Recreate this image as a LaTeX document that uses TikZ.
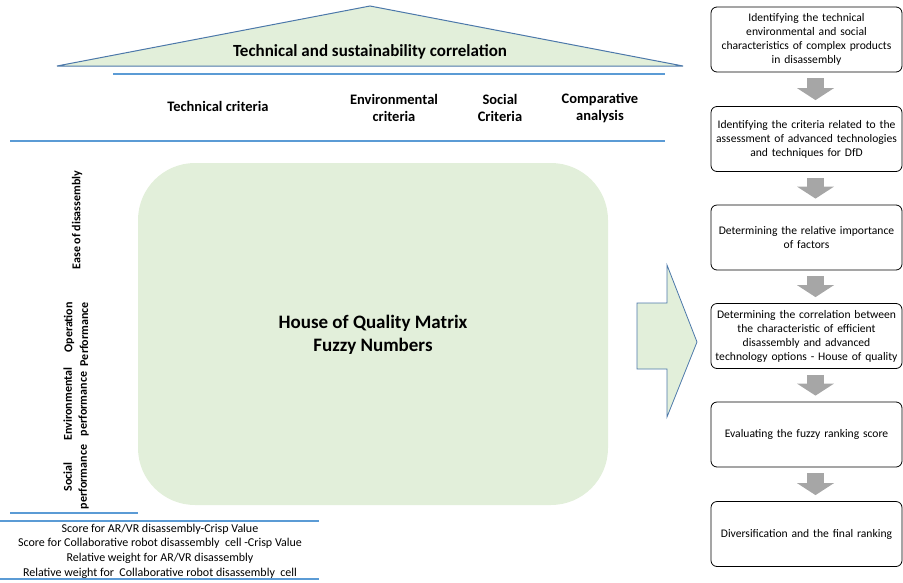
\documentclass[tikz,border=0pt]{standalone}
\usepackage{fontspec}
\setmainfont{Carlito}
\usepackage{tikz}
\usetikzlibrary{arrows.meta,positioning,calc}
\definecolor{hoqfill}{RGB}{226,239,218}
\definecolor{ruleblue}{RGB}{91,155,213}
\definecolor{edgeblue}{RGB}{76,120,170}
\definecolor{flowgray}{RGB}{166,166,166}
\tikzset{
  stepbox/.style ={draw, rounded corners=6pt, line width=0.8pt, align=center, text width=190pt,
                   minimum width=191pt, minimum height=65pt, inner sep=0.5pt, font=\fontsize{11.6}{14}\selectfont},
  downflow/.style={-{Triangle[width=37pt, length=12pt, line width=0pt]}, draw=flowgray, line width=17pt,
                   shorten <=6pt, shorten >=6pt},
  hdr/.style     ={align=center, font=\bfseries\fontsize{14.5}{17}\selectfont},
  sidelbl/.style ={rotate=90, align=center, inner sep=0pt, font=\bfseries\fontsize{12}{15}\selectfont},
  hrule/.style   ={draw=ruleblue, line width=1.2pt}
}
\begin{document}
\begin{tikzpicture}[x=1pt, y=-1pt]
  \useasboundingbox (0,0) rectangle (903,582);
  % roof
  \draw[edgeblue, fill=hoqfill, line width=1pt] (57,66) -- (370,6) -- (683,66) -- cycle;
  \node[font=\bfseries\fontsize{17}{20}\selectfont] (roof) at (370,52) {Technical and sustainability correlation};
  % header rows
  \draw[hrule] (113,74) -- (665,74);
  \draw[hrule] (10,141) -- (665,141);
  \node[hdr] (tech) at (218,106) {Technical criteria};
  \node[hdr] (env)  at (394,108) {Environmental\\criteria};
  \node[hdr] (soc)  at (500,108) {Social\\Criteria};
  \node[hdr] (comp) at (600,108) {Comparative\\analysis};
  % matrix
  \draw[fill=hoqfill, draw=none, rounded corners=57pt] (138,163) rectangle (608,505);
  \node[align=center, font=\bfseries\fontsize{19}{23}\selectfont] (hoq) at (373,335) {House of Quality Matrix\\Fuzzy Numbers};
  % side labels
  \node[sidelbl] (ease) at (77,220) {Ease of disassembly};
  \node[sidelbl, anchor=east] (oper) at (69,302) {Operation};
  \node[sidelbl, anchor=east] (perf) at (84,302) {Performance};
  \node[sidelbl] (envp) at (76,404) {Environmental\\performance};
  \node[sidelbl] (socp) at (76,477) {Social\\performance};
  \draw[hrule] (10,513) -- (138,513);
  % bottom rows
  \draw[hrule] (0,521) -- (319,521);
  \node[align=center, font=\fontsize{12}{14.7}\selectfont] (score) at (160,551)
    {Score for AR/VR disassembly-Crisp Value\\
     Score for Collaborative robot disassembly\ \ cell -Crisp Value\\
     Relative weight for AR/VR disassembly\\
     Relative weight for\ \ Collaborative robot disassembly\ \ cell};
  \draw[hrule] (0,579) -- (319,579);
  % big arrow
  \draw[edgeblue, fill=hoqfill, line width=0.8pt]
    (637,303) -- (667,303) -- (667,265) -- (697,342) -- (667,417) -- (667,369) -- (637,369) -- cycle;
  % steps
  \node[stepbox] (s1) at (806.5,39.5) {Identifying the technical\\environmental and social\\characteristics of complex products\\in disassembly};
  \node[stepbox] (s2) at (806.5,139)  {Identifying the criteria related to the\\assessment of advanced technologies\\and techniques for DfD};
  \node[stepbox] (s3) at (806.5,237.5){Determining the relative importance\\of factors};
  \node[stepbox] (s4) at (806.5,336)  {Determining the correlation between\\the characteristic of efficient\\disassembly and advanced\\technology options - House of quality};
  \node[stepbox] (s5) at (806.5,434.5){Evaluating the fuzzy ranking score};
  \node[stepbox] (s6) at (806.5,534)  {Diversification and the final ranking};
  \foreach \a/\b in {s1/s2, s2/s3, s3/s4, s4/s5, s5/s6}
    \draw[downflow] ([xshift=9pt]\a.south) -- ([xshift=9pt]\b.north);
\end{tikzpicture}
\end{document}
